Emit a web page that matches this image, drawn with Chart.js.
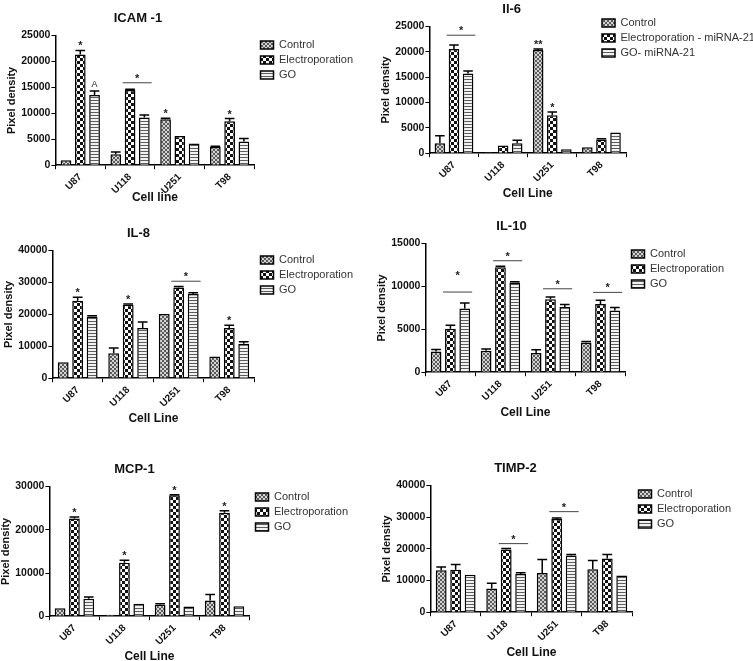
<!DOCTYPE html>
<html>
<head>
<meta charset="utf-8">
<script src="https://cdn.jsdelivr.net/npm/chart.js@4"></script>
<style>
    body { margin: 0; background: #fff; width: 753px; height: 661px; overflow: hidden; position: relative; }
    .panel { position: absolute; }
</style>
</head>
<body>
<div class="panel" style="left:5px;top:1px;width:358px;height:204px"><canvas id="icam"></canvas></div>
<div class="panel" style="left:379px;top:-8px;width:391px;height:209px"><canvas id="il6"></canvas></div>
<div class="panel" style="left:2px;top:216px;width:361px;height:210px"><canvas id="il8"></canvas></div>
<div class="panel" style="left:375px;top:209px;width:359px;height:211px"><canvas id="il10"></canvas></div>
<div class="panel" style="left:-1px;top:452px;width:359px;height:212px"><canvas id="mcp"></canvas></div>
<div class="panel" style="left:380px;top:451px;width:361px;height:209px"><canvas id="timp"></canvas></div>
<script>
const cellLines = ['U87', 'U118', 'U251', 'T98'];

// ICAM-1
const icamControl = [960, 2100, 8850, 3500];
const icamControlErr = [0, 450, 200, 150];
const icamElectro = [21350, 14500, 5650, 8500];
const icamElectroErr = [800, 150, 0, 500];
const icamGO = [13550, 9200, 4200, 4550];
const icamGOErr = [750, 500, 0, 600];
const icamStars = [[0, 1, '*'], [0, 2, 'A'], [2, 0, '*'], [3, 1, '*']];
const icamLines = [[1, 15900]];

// Il-6
const il6Control = [1950, 200, 20400, 1170];
const il6ControlErr = [1500, 0, 200, 0];
const il6Electro = [20600, 1500, 7500, 2700];
const il6ElectroErr = [750, 0, 650, 150];
const il6GO = [15750, 1950, 800, 4100];
const il6GOErr = [500, 600, 0, 0];
const il6Stars = [[2, 0, '**'], [2, 1, '*']];
const il6Lines = [[0, 23300]];

// IL-8
const il8Control = [5000, 7850, 20100, 6800];
const il8ControlErr = [0, 1650, 0, 0];
const il8Electro = [24300, 23000, 28450, 15750];
const il8ElectroErr = [1050, 250, 300, 850];
const il8GO = [19350, 15750, 26400, 10800];
const il8GOErr = [250, 1850, 400, 650];
const il8Stars = [[0, 1, '*'], [1, 1, '*'], [3, 1, '*']];
const il8Lines = [[2, 30400]];

// IL-10
const il10Control = [2420, 2500, 2230, 3460];
const il10ControlErr = [230, 200, 400, 120];
const il10Electro = [5080, 12230, 8500, 7960];
const il10ElectroErr = [400, 120, 270, 420];
const il10GO = [7420, 10460, 7620, 7190];
const il10GOErr = [650, 80, 270, 350];
const il10Stars = [];
const il10Lines = [[0, 9350, 10700], [1, 13000], [2, 9730], [3, 9310]];

// MCP-1
const mcpControl = [1860, 310, 2640, 3640];
const mcpControlErr = [0, 0, 250, 1400];
const mcpElectro = [22630, 12400, 27980, 23950];
const mcpElectroErr = [320, 550, 150, 470];
const mcpGO = [4030, 2870, 2250, 2330];
const mcpGOErr = [400, 0, 0, 0];
const mcpStars = [[0, 1, '*'], [1, 1, '*'], [2, 1, '*'], [3, 1, '*']];
const mcpLines = [];

// TIMP-2
const timpControl = [13230, 7500, 12400, 13540];
const timpControlErr = [1050, 1650, 4250, 2800];
const timpElectro = [13440, 19800, 29480, 16980];
const timpElectroErr = [1650, 300, 300, 1250];
const timpGO = [11870, 12080, 17920, 11560];
const timpGOErr = [0, 400, 300, 0];
const timpStars = [];
const timpLines = [[1, 21670], [2, 31770]];

const font = 'Liberation Sans, Arial, sans-serif';

function makePattern(kind) {
    const c = document.createElement('canvas');
    const g = c.getContext('2d');
    if (kind === 'control') {
        c.width = 4; c.height = 4;
        g.fillStyle = '#d4d4d4'; g.fillRect(0, 0, 4, 4);
        g.fillStyle = '#5a5a5a'; g.fillRect(0, 0, 2, 2); g.fillRect(2, 2, 2, 2);
    } else if (kind === 'electro') {
        c.width = 6; c.height = 6;
        g.fillStyle = '#fff'; g.fillRect(0, 0, 6, 6);
        g.fillStyle = '#111'; g.fillRect(0, 0, 3, 3); g.fillRect(3, 3, 3, 3);
    } else {
        c.width = 3; c.height = 3;
        g.fillStyle = '#f2f2f2'; g.fillRect(0, 0, 3, 3);
        g.fillStyle = '#5c5c5c'; g.fillRect(0, 0, 3, 1);
    }
    return g.createPattern(c, 'repeat');
}

const patControl = makePattern('control');
const patElectro = makePattern('electro');
const patGO = makePattern('go');

// upward error bars with a cap
const errorBars = {
    id: 'errorBars',
    afterDatasetsDraw(chart) {
        const ctx = chart.ctx;
        const y = chart.scales.y;
        ctx.save();
        ctx.strokeStyle = '#000';
        ctx.lineWidth = 1.5;
        chart.data.datasets.forEach((ds, i) => {
            chart.getDatasetMeta(i).data.forEach((bar, j) => {
                const e = ds.errors[j];
                if (!e) return;
                const top = y.getPixelForValue(ds.data[j] + e);
                const half = bar.width * 0.45;
                ctx.beginPath();
                ctx.moveTo(bar.x, bar.y);
                ctx.lineTo(bar.x, top);
                ctx.moveTo(bar.x - half, top);
                ctx.lineTo(bar.x + half, top);
                ctx.stroke();
            });
        });
        ctx.restore();
    }
};

// significance stars and lines
const sigMarks = {
    id: 'sig',
    afterDatasetsDraw(chart, args, opts) {
        const ctx = chart.ctx;
        const y = chart.scales.y;
        ctx.save();
        ctx.fillStyle = '#222';
        ctx.strokeStyle = '#444';
        ctx.lineWidth = 1;
        ctx.textAlign = 'center';
        ctx.textBaseline = 'alphabetic';
        (opts.stars || []).forEach(([cat, s, txt]) => {
            const ds = chart.data.datasets[s];
            const bar = chart.getDatasetMeta(s).data[cat];
            const top = y.getPixelForValue(ds.data[cat] + (ds.errors[cat] || 0));
            ctx.font = txt === 'A' ? '9px ' + font : 'bold 11px ' + font;
            ctx.fillText(txt, bar.x, top - (txt === 'A' ? 4 : 1));
        });
        (opts.lines || []).forEach(([cat, v, starAt]) => {
            const b1 = chart.getDatasetMeta(1).data[cat];
            const b2 = chart.getDatasetMeta(2).data[cat];
            const x1 = b1.x - b1.width / 2 - 2;
            const x2 = b2.x + b2.width / 2 + 2;
            const py = y.getPixelForValue(v);
            ctx.beginPath();
            ctx.moveTo(x1, py);
            ctx.lineTo(x2, py);
            ctx.stroke();
            ctx.font = 'bold 11px ' + font;
            const sy = starAt ? y.getPixelForValue(starAt) : py;
            ctx.fillText('*', (x1 + x2) / 2, sy - 1);
        });
        ctx.restore();
    }
};

// nudge title / legend boxes sideways after layout
const nudge = {
    id: 'nudge',
    afterLayout(chart, args, opts) {
        if (opts.title && chart.titleBlock) {
            chart.titleBlock.left -= opts.title;
            chart.titleBlock.right -= opts.title;
        }
        if (opts.legend && chart.legend) {
            chart.legend.left -= opts.legend;
        }
    }
};

function barChart(id, title, xTitle, names, control, controlErr, electro, electroErr, go, goErr, max, step, stars, lines, cfg) {
    const series = [
        [names[0], control, controlErr, patControl],
        [names[1], electro, electroErr, patElectro],
        [names[2], go, goErr, patGO]
    ];
    return new Chart(document.getElementById(id), {
        type: 'bar',
        data: {
            labels: cellLines,
            datasets: series.map(([label, data, errors, pat]) => ({
                label: label,
                data: data,
                errors: errors,
                backgroundColor: pat,
                borderColor: '#000',
                borderWidth: 1.5,
                barPercentage: 0.75,
                categoryPercentage: 0.86
            }))
        },
        options: {
            responsive: true,
            maintainAspectRatio: false,
            animation: false,
            layout: { padding: 0 },
            plugins: {
                title: {
                    display: true,
                    text: title,
                    fullSize: false,
                    color: '#111',
                    font: { family: font, size: 13, weight: 'bold' },
                    padding: { top: 10, bottom: 9 }
                },
                legend: {
                    position: 'right',
                    align: 'start',
                    maxWidth: cfg.legendMax || 300,
                    title: { display: true, text: '', padding: { top: 0, bottom: cfg.legendDrop } },
                    labels: {
                        color: '#333',
                        font: { family: font, size: 11 },
                        boxWidth: 13,
                        boxHeight: 8,
                        padding: 4
                    }
                },
                tooltip: { enabled: false },
                sig: { stars: stars, lines: lines },
                nudge: { title: cfg.titleShift, legend: cfg.legendShift || 0 }
            },
            scales: {
                x: {
                    grid: { display: true, drawOnChartArea: false, drawTicks: true, tickLength: 4, color: '#000' },
                    border: { display: true, color: '#000', width: 1.5 },
                    ticks: {
                        color: '#111',
                        minRotation: 45,
                        maxRotation: 45,
                        padding: 2,
                        font: { family: font, size: 10, weight: 'bold' }
                    },
                    title: {
                        display: true,
                        text: xTitle,
                        color: '#111',
                        padding: { top: cfg.xTitlePad || 0, bottom: 0 },
                        font: { family: font, size: 12, weight: 'bold' }
                    }
                },
                y: {
                    min: 0,
                    max: max,
                    grid: { display: true, drawOnChartArea: false, drawTicks: true, tickLength: 4, color: '#000' },
                    border: { display: true, color: '#000', width: 1.5 },
                    ticks: {
                        stepSize: step,
                        color: '#111',
                        padding: 1,
                        callback: v => String(v),
                        font: { family: font, size: 10.5, weight: 'bold' }
                    },
                    title: {
                        display: true,
                        text: 'Pixel density',
                        color: '#111',
                        padding: { top: 0, bottom: 2 },
                        font: { family: font, size: 11, weight: 'bold' }
                    }
                },
                // empty spacer between plot and legend
                gap: {
                    type: 'linear',
                    position: 'right',
                    display: cfg.gap > 0,
                    grid: { display: false },
                    border: { display: false },
                    ticks: { display: false },
                    afterFit: s => { s.width = cfg.gap; }
                }
            }
        },
        plugins: [errorBars, sigMarks, nudge]
    });
}

const groups = ['Control', 'Electroporation', 'GO'];
const groupsMir = ['Control', 'Electroporation - miRNA-21', 'GO- miRNA-21'];

barChart('icam', 'ICAM -1', 'Cell line', groups, icamControl, icamControlErr, icamElectro, icamElectroErr, icamGO, icamGOErr, 25000, 5000, icamStars, icamLines,
    { gap: 2, titleShift: 17, legendDrop: 20, xTitlePad: -8 });
barChart('il6', 'Il-6', 'Cell Line', groupsMir, il6Control, il6ControlErr, il6Electro, il6ElectroErr, il6GO, il6GOErr, 25000, 5000, il6Stars, il6Lines,
    { gap: 0, titleShift: 16, legendDrop: 7, legendMax: 144, legendShift: 28 });
barChart('il8', 'IL-8', 'Cell Line', groups, il8Control, il8ControlErr, il8Electro, il8ElectroErr, il8GO, il8GOErr, 40000, 10000, il8Stars, il8Lines,
    { gap: 2, titleShift: 15, legendDrop: 20 });
barChart('il10', 'IL-10', 'Cell Line', groups, il10Control, il10ControlErr, il10Electro, il10ElectroErr, il10GO, il10GOErr, 15000, 5000, il10Stars, il10Lines,
    { gap: 2, titleShift: 14, legendDrop: 21 });
barChart('mcp', 'MCP-1', 'Cell Line', groups, mcpControl, mcpControlErr, mcpElectro, mcpElectroErr, mcpGO, mcpGOErr, 30000, 10000, mcpStars, mcpLines,
    { gap: 2, titleShift: 15, legendDrop: 21 });
barChart('timp', 'TIMP-2', 'Cell Line', groups, timpControl, timpControlErr, timpElectro, timpElectroErr, timpGO, timpGOErr, 40000, 10000, timpStars, timpLines,
    { gap: 2, titleShift: 16, legendDrop: 19 });
</script>
</body>
</html>
